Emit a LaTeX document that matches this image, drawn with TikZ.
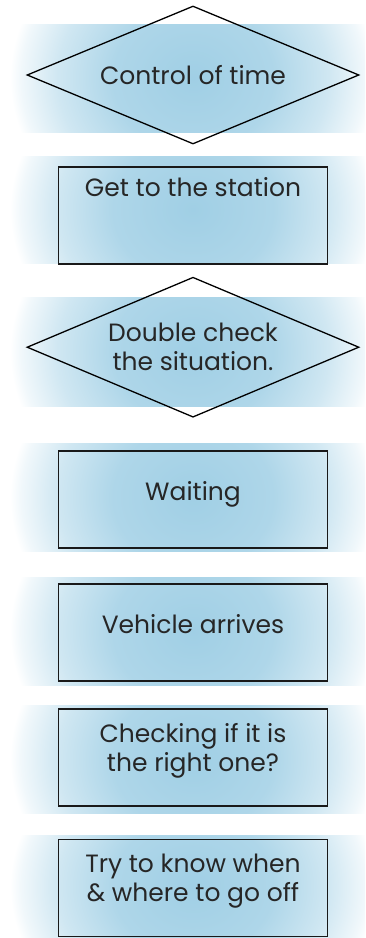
\documentclass[tikz,border=0pt]{standalone}
\usepackage{fontspec}
\setmainfont{Poppins}
\usepackage{xcolor}
\usepackage{tikz}
\usetikzlibrary{shapes.geometric,positioning}

\definecolor{bandblue}{RGB}{160,207,229}
\colorlet{bandin}{bandblue!85!white}
\colorlet{bandmid}{bandblue!50!white}
\colorlet{bandout}{bandblue!15!white}
\pgfdeclareradialshading{bandglow}{\pgfpoint{0bp}{0bp}}{color(0bp)=(bandblue); color(11bp)=(bandin); color(18.5bp)=(bandmid); color(23.5bp)=(bandout); color(25bp)=(white); color(50bp)=(white)}

\begin{document}
\begin{tikzpicture}[
  x=1pt, y=-1pt,
  decide/.style={draw=black, line width=1.3pt, diamond, aspect=2.4, minimum width=332pt, minimum height=138pt, inner sep=0pt, align=center, font=\fontsize{25}{29}\selectfont, text=black!85},
  stepbox/.style={draw=black!90, line width=1.9pt, rectangle, minimum width=269pt, minimum height=97pt, inner sep=0pt, align=center, font=\fontsize{25}{29}\selectfont, text=black!85},
  oneline/.style={text height=13pt, text depth=10pt},
  twoline/.style={text depth=20pt},
  topline/.style={text height=30pt, text depth=67pt},
  node distance=22pt
]
\useasboundingbox (0,0) rectangle (365,938);

% blue bands behind each step
\foreach \ytop/\ybot in {24/132, 156/263, 297/406, 443/551, 577/685, 705/813, 835/938} {
  \begin{scope}
    \clip (10,\ytop) rectangle (365,\ybot);
    \shade[shading=bandglow] (10,{2*\ytop-\ybot}) rectangle (376,{2*\ybot-\ytop});
  \end{scope}
}

\node[decide] (time) at (193,75) {Control of time};

\node[stepbox, topline, below=21pt of time] (station) {Get to the station};

\node[decide, minimum height=140pt, below=12pt of station] (check) {Double check\\the situation.};

\node[stepbox, oneline, below=32pt of check] (wait) {Waiting};

\node[stepbox, oneline, below=34pt of wait] (arrive) {Vehicle arrives};

\node[stepbox, twoline, below=26pt of arrive] (right) {Checking if it is\\the right one?};

\node[stepbox, twoline, below=32pt of right] (off) {Try to know when\\\& where to go off};

\end{tikzpicture}
\end{document}
